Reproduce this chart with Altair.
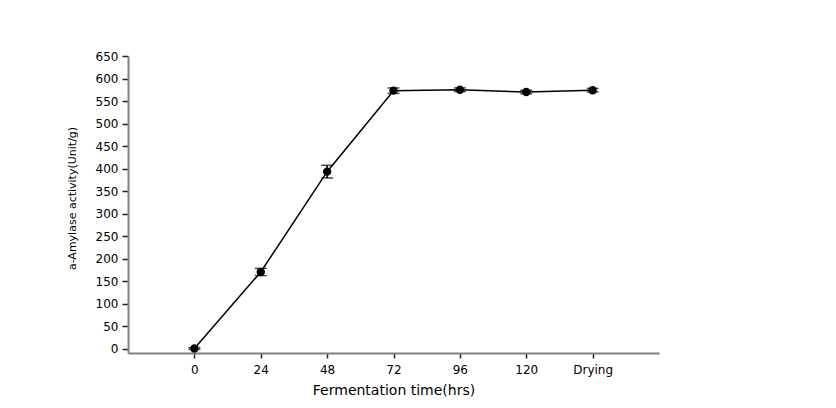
import altair as alt
import pandas as pd

times = ["0", "24", "48", "72", "96", "120", "Drying"]
activity = [0, 170, 393, 573, 575, 570, 574]
errors = [2, 8, 14, 6, 4, 4, 4]

df = pd.DataFrame({"time": times, "activity": activity, "err": errors})

FONT = "DejaVu Sans"

x = alt.X(
    "time:N",
    sort=times,
    scale=alt.Scale(type="point", padding=1),
    axis=alt.Axis(
        title="Fermentation time(hrs)",
        labelAngle=0,
        labelFontSize=12,
        titleFontSize=14,
        titleFontWeight="normal",
        titlePadding=8,
        labelPadding=6,
        tickSize=5,
        grid=False,
    ),
)
y_scale = alt.Scale(domain=[-10, 650], nice=False, zero=False)
y_axis = alt.Axis(
    title="a-Amylase activity(Unit/g)",
    values=list(range(0, 651, 50)),
    labelFontSize=12,
    labelOverlap=False,
    labelFlush=False,
    titleFontSize=11,
    titleFontWeight="normal",
    titleX=-56,
    titleY=142,
    titleAngle=270,
    titleAlign="center",
    titleBaseline="middle",
    labelPadding=4,
    tickSize=6,
    grid=False,
)

def yenc(field):
    return alt.Y(field, type="quantitative", scale=y_scale, axis=y_axis,
                 title="a-Amylase activity(Unit/g)")

base = alt.Chart(df).transform_calculate(
    lo="datum.activity - datum.err", hi="datum.activity + datum.err"
)

line = base.mark_line(color="black", strokeWidth=1.5).encode(x=x, y=yenc("activity"))
pts = base.mark_point(filled=True, color="black", size=70, opacity=1).encode(
    x=x, y=yenc("activity")
)
bars = base.mark_rule(color="black", strokeWidth=1.5).encode(
    x=x, y=yenc("lo"), y2="hi:Q"
)
cap_lo = base.mark_tick(color="black", size=12, thickness=1.5).encode(
    x=x, y=yenc("lo")
)
cap_hi = base.mark_tick(color="black", size=12, thickness=1.5).encode(
    x=x, y=yenc("hi")
)

chart = (
    alt.layer(line, bars, cap_lo, cap_hi, pts)
    .properties(
        width=531,
        height=297,
        autosize=alt.AutoSizeParams(type="none"),
        padding={"left": 128, "top": 56, "right": 177, "bottom": 55},
        background="white",
    )
    .configure_view(stroke=None)
    .configure_axis(
        labelFont=FONT,
        titleFont=FONT,
        labelColor="black",
        titleColor="black",
        domainColor="#808080",
        domainWidth=2,
        tickColor="#222222",
        tickWidth=1.5,
    )
)

chart.save("out.html", embed_options={"renderer": "svg", "actions": False})
